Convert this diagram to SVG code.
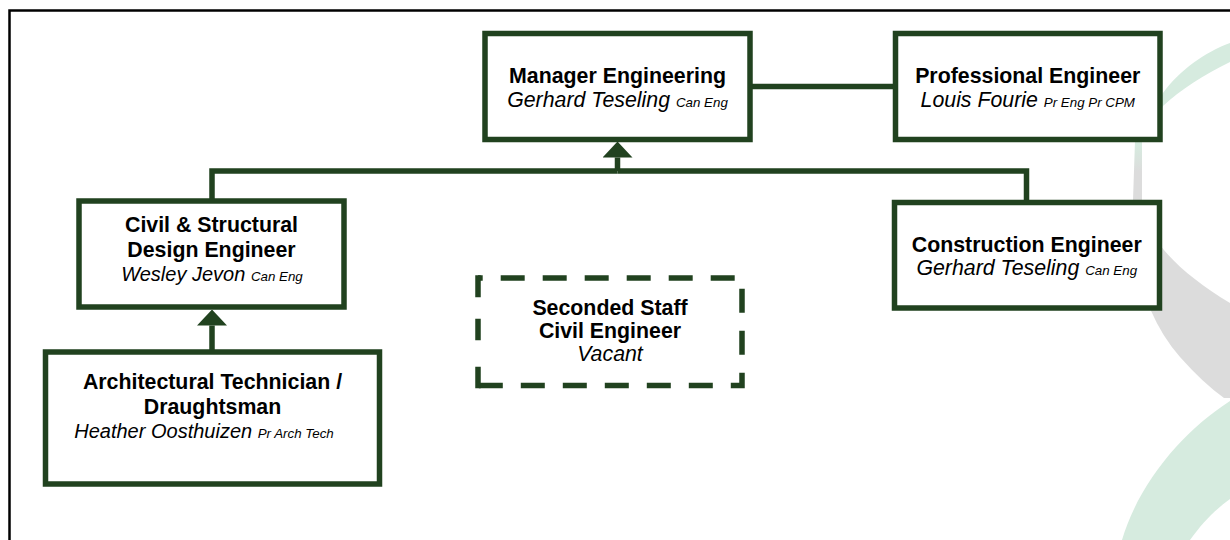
<svg xmlns="http://www.w3.org/2000/svg" width="1230" height="540" viewBox="0 0 1230 540">
<style>
.box{fill:#fff;stroke:#21421f;stroke-width:5.5}
.dash{fill:none;stroke:#21421f;stroke-width:5.5}
.conn{fill:none;stroke:#21421f;stroke-width:5.5;stroke-linejoin:miter}
.t{font-family:"Liberation Sans",Arial,sans-serif;font-size:21.33px;text-anchor:middle;fill:#000}
.b{font-weight:bold}
.i{font-style:italic}
.i20{font-size:20px}
.s{font-size:13.33px}
.green{fill:#d6ebdf}
</style>
<defs>
<linearGradient id="strip" gradientUnits="userSpaceOnUse" x1="0" y1="145" x2="0" y2="172">
<stop offset="0" stop-color="#d6ebdf"/>
<stop offset="1" stop-color="#dcdcdc"/>
</linearGradient>
<marker id="ah" markerUnits="userSpaceOnUse" markerWidth="16" markerHeight="30" viewBox="0 0 16 30" refX="0" refY="15" orient="auto">
<path d="M0,0 L16,15 L0,30 Z" fill="#21421f"/>
</marker>
</defs>
<rect width="1230" height="540" fill="#fff"/>
<g id="background">
<path d="M1135,141 L1133,200 Q1130,300 1180,357 Q1203,383 1224,398 L1230,398 L1230,303 C1200,285 1175,265 1160,245 C1150,230 1144,215 1142,200 L1142,141 Z" fill="url(#strip)"/>
<path class="green" d="M1230,43 C1205,52 1180,70 1163,93 L1139,142 L1146,142 L1163,106 C1180,90 1205,74 1230,62 Z"/>
<path class="green" d="M1230,401 C1185,430 1140,480 1122,540 L1190,540 C1203,522 1215,510 1230,499 Z"/>
<path d="M9.5,540 V10.5 H1230" fill="none" stroke="#000" stroke-width="2.5"/>
</g>
<g id="connectors">
<path class="conn" d="M750,86.5 H895.5"/>
<path class="conn" d="M212,201 V171 H617.5"/>
<path class="conn" d="M1026.5,202.5 V171 H617.5"/>
<path class="conn" d="M617.5,171 V157.5" marker-end="url(#ah)"/>
<path class="conn" d="M212,352 V325.5" marker-end="url(#ah)"/>
</g>
<g id="manager">
<rect class="box" x="485" y="33.5" width="265" height="106"/>
<text class="t b" x="617.5" y="83.3">Manager Engineering</text>
<text class="t i" x="617.5" y="106.7">Gerhard Teseling <tspan class="s">Can Eng</tspan></text>
</g>
<g id="professional">
<rect class="box" x="895.5" y="33.5" width="264.5" height="106"/>
<text class="t b" x="1027.75" y="83">Professional Engineer</text>
<text class="t i" x="1027.75" y="106.5">Louis Fourie <tspan class="s">Pr Eng Pr CPM</tspan></text>
</g>
<g id="civil">
<rect class="box" x="79" y="201" width="265" height="106"/>
<text class="t b" x="211.5" y="231.7">Civil &amp; Structural</text>
<text class="t b" x="211.5" y="256.7">Design Engineer</text>
<text class="t i i20" x="212" y="280.7">Wesley Jevon <tspan class="s">Can Eng</tspan></text>
</g>
<g id="construction">
<rect class="box" x="894.5" y="202.5" width="265" height="105.5"/>
<text class="t b" x="1026.75" y="251.5">Construction Engineer</text>
<text class="t i" x="1026.75" y="275">Gerhard Teseling <tspan class="s">Can Eng</tspan></text>
</g>
<g id="seconded">
<rect x="478" y="278" width="264" height="107.5" fill="#fff"/>
<path class="dash" d="M478,278 H742 V385.5 H478" stroke-dasharray="24 18" stroke-dashoffset="19.3"/>
<path class="dash" d="M478,388.25 V275.25" stroke-dasharray="21.5 26.5 21.5 21.5 22"/>
<text class="t b" x="610" y="315">Seconded Staff</text>
<text class="t b" x="610" y="338">Civil Engineer</text>
<text class="t i" x="610" y="361">Vacant</text>
</g>
<g id="architectural">
<rect class="box" x="45.5" y="352" width="334" height="132"/>
<text class="t b" x="212.5" y="389.3">Architectural Technician /</text>
<text class="t b" x="212.5" y="414">Draughtsman</text>
<text class="t i i20" x="204" y="438.3">Heather Oosthuizen <tspan class="s">Pr Arch Tech</tspan></text>
</g>
</svg>
